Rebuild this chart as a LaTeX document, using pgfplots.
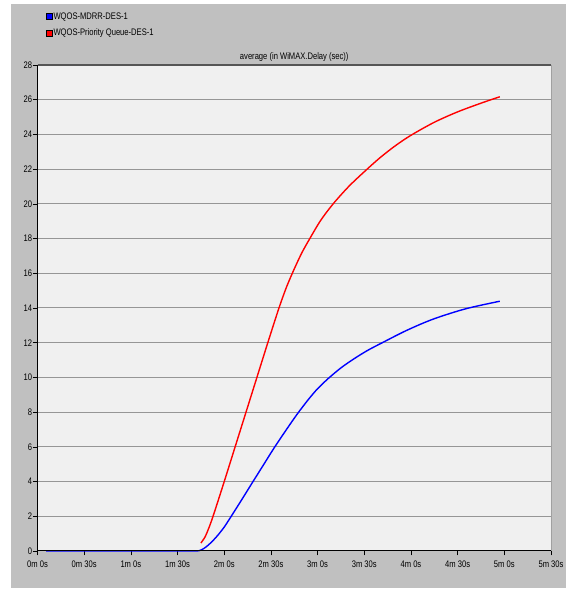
\documentclass[border=0pt]{standalone}
\usepackage{fontspec}
\setmainfont{Liberation Sans}
\newfontfamily\chartfont[FakeStretch=0.8]{Liberation Sans}
\usepackage{pgfplots}
\pgfplotsset{compat=1.18}
\definecolor{bggray}{RGB}{192,192,192}
\definecolor{plotbg}{RGB}{240,240,240}
\definecolor{gridgray}{RGB}{150,150,150}
\definecolor{topline}{RGB}{85,85,85}
\definecolor{rightline}{RGB}{160,160,160}
\begin{document}
\begin{tikzpicture}
\useasboundingbox (0,0) rectangle (566bp,589bp);
\fill[white] (0,0) rectangle (566bp,589bp);
\fill[bggray] (11bp,1bp) rectangle (566bp,585bp);
\begin{axis}[
  at={(37.5bp,38bp)}, anchor=south west,
  scale only axis, width=513.5bp, height=486bp,
  xmin=0, xmax=330, ymin=0, ymax=28,
  axis background/.style={fill=plotbg},
  axis line style={draw=none},
  xtick={0,30,...,330},
  xticklabels={0m 0s,0m 30s,1m 0s,1m 30s,2m 0s,2m 30s,3m 0s,3m 30s,4m 0s,4m 30s,5m 0s,5m 30s},
  ytick={0,2,...,28},
  ymajorgrids, grid style={gridgray, line width=1bp},
  tick align=outside, tick pos=left,
  major tick length=4.5bp,
  tick style={black, line width=0.6bp},
  /pgf/number format/assume math mode=true,
  ticklabel style={font=\chartfont\fontsize{9.5bp}{11bp}\selectfont, text=black},
  yticklabel style={inner sep=0.6bp},
  xticklabel style={inner sep=0bp, yshift=-5bp},
  title={average (in WiMAX.Delay (sec))},
  title style={at={(0.5,1)}, anchor=base, yshift=-0.5bp, inner sep=0pt, font=\chartfont\fontsize{9.5bp}{11bp}\selectfont},
  legend style={draw=none, fill=none, at={(0.0166,1.111)}, anchor=north west, inner sep=0pt, outer sep=0pt, row sep=5.5bp, column sep=0bp,
    nodes={inner sep=1bp, text height=7bp, text depth=2bp, text=black}, font=\chartfont\fontsize{9.5bp}{11bp}\selectfont},
  legend cell align=left,
  clip=false,
]
\addplot[blue, line width=1.4bp, smooth, tension=0.5,
  legend image code/.code={\filldraw[draw=black,fill=blue,line width=0.5bp] (0bp,-3bp) rectangle (6bp,3bp);}]
  coordinates {(5.6,0) (30,0) (60,0) (90,0) (100,0) (104,0.02) (107,0.15) (110,0.36) (113,0.62) (116,0.92) (120,1.38) (124,1.93) (131,2.92) (138,3.93) (145,4.93) (152,5.93) (160,7.0) (167,7.9) (174,8.72) (180,9.35) (187,9.95) (195,10.55) (203,11.05) (212,11.55) (222,12.02) (237,12.7) (254,13.35) (275,13.95) (297.1,14.39)};
\addlegendentry{WQOS-MDRR-DES-1}
\addplot[red, line width=1.4bp, smooth, tension=0.5,
  legend image code/.code={\filldraw[draw=black,fill=red,line width=0.5bp] (0bp,-3bp) rectangle (6bp,3bp);}]
  coordinates {(105,0.46) (107.6,0.8) (110,1.3) (113,2.05) (120,4.0) (127,6.0) (134,8.0) (141,10.0) (148,12.0) (155,13.95) (160,15.2) (165,16.25) (170,17.2) (175,18.0) (182,19.05) (190,20.0) (200,21.0) (210,21.85) (220,22.65) (230,23.35) (240,23.95) (255,24.7) (270,25.3) (285,25.8) (297.1,26.17)};
\addlegendentry{WQOS-Priority Queue-DES-1}
\draw[black, line width=0.8bp] (rel axis cs:0,0) -- (rel axis cs:0,1);
\draw[black, line width=1bp] (rel axis cs:0,0) -- (rel axis cs:1,0);
\draw[rightline, line width=0.8bp] (rel axis cs:1,0) -- (rel axis cs:1,1);
\draw[topline, line width=1.6bp] (rel axis cs:0,1) -- (rel axis cs:1,1);
\end{axis}
\end{tikzpicture}
\end{document}
